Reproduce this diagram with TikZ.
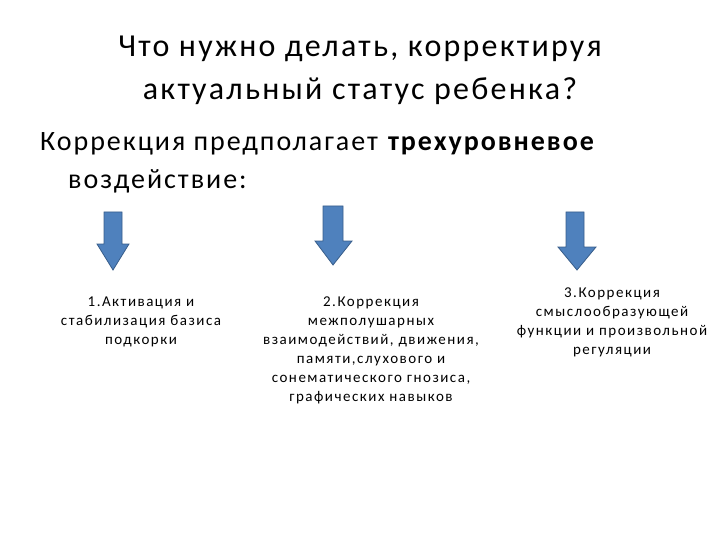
\documentclass[tikz,border=0pt]{standalone}
\usepackage{fontspec}
\setmainfont{Carlito}
\newfontfamily\wide[LetterSpace=7]{Carlito}
\newfontfamily\wider[LetterSpace=10]{Carlito}
\begin{document}
\begin{tikzpicture}[x=1pt,y=-1pt,
 arr/.style={fill={rgb,255:red,79;green,129;blue,189},draw={rgb,255:red,56;green,93;blue,138},line width=0.8pt},
 lbl/.style={align=center,font=\wider\fontsize{15}{19}\selectfont,inner sep=0pt}]
\useasboundingbox (0,0) rectangle (720,540);
\node[align=center,font=\wide\fontsize{32}{43}\selectfont] (title) at (360,70) {Что нужно делать, корректируя\\актуальный статус ребенка?};
\node[anchor=north west,align=left,font=\wide\fontsize{28}{38}\selectfont,inner sep=0pt] (intro) at (40,132) {Коррекция предполагает \textbf{трехуровневое}\\\hspace*{28pt}воздействие:};
\draw[arr] (104,212) -- (122,212) -- (122,244) -- (129,244) -- (113,270) -- (97,244) -- (104,244) -- cycle;
\draw[arr] (323,206) -- (343,206) -- (343,241) -- (352,241) -- (333,265) -- (315,241) -- (323,241) -- cycle;
\draw[arr] (566,212) -- (584,212) -- (584,247) -- (596,247) -- (577,270) -- (558,247) -- (566,247) -- cycle;
\node[lbl] (a) at (141,322) {1.Активация и\\стабилизация базиса\\подкорки};
\node[lbl] (b) at (371,350) {2.Коррекция\\межполушарных\\взаимодействий, движения,\\памяти,слухового и\\сонематического гнозиса,\\графических навыков};
\node[lbl] (c) at (612,322) {3.Коррекция\\смыслообразующей\\функции и произвольной\\регуляции};
\end{tikzpicture}
\end{document}
